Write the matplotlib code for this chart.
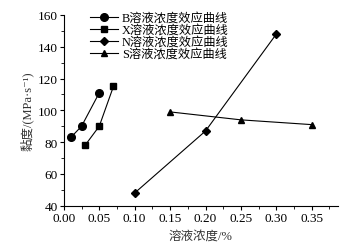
import matplotlib
matplotlib.use("Agg")
import matplotlib.pyplot as plt
from matplotlib.ticker import MultipleLocator

fam = ['Liberation Serif', 'Noto Sans CJK SC', 'DejaVu Serif']
plt.rcParams['font.family'] = fam

B_x = [0.01, 0.025, 0.05]
B_y = [83, 90, 111]
X_x = [0.03, 0.05, 0.07]
X_y = [78, 90, 115]
N_x = [0.10, 0.20, 0.30]
N_y = [48, 87, 148]
S_x = [0.15, 0.25, 0.35]
S_y = [99, 94, 91]
labels = ['B溶液浓度效应曲线', 'X溶液浓度效应曲线', 'N溶液浓度效应曲线', 'S溶液浓度效应曲线']

fig = plt.figure(figsize=(3.47, 2.51), dpi=100)
ax = fig.add_axes([0.184, 0.1765, 0.79, 0.76])
kw = dict(color='black', lw=0.8)
ax.plot(B_x, B_y, marker='o', ms=5.5, label=labels[0], **kw)
ax.plot(X_x, X_y, marker='s', ms=5, label=labels[1], **kw)
ax.plot(N_x, N_y, marker='D', ms=4, label=labels[2], **kw)
ax.plot(S_x, S_y, marker='^', ms=5, label=labels[3], **kw)

ax.set_xlim(0, 0.387)
ax.set_ylim(40, 160)
ax.xaxis.set_major_locator(MultipleLocator(0.05))
ax.xaxis.set_minor_locator(MultipleLocator(0.025))
ax.yaxis.set_major_locator(MultipleLocator(20))
ax.yaxis.set_minor_locator(MultipleLocator(10))
ax.xaxis.set_major_formatter(matplotlib.ticker.FormatStrFormatter('%.2f'))
for s in ['top', 'right']:
    ax.spines[s].set_visible(False)
for s in ['left', 'bottom']:
    ax.spines[s].set_linewidth(0.8)
ax.tick_params(which='major', direction='out', length=3, width=0.8, labelsize=9.5, pad=1.5)
ax.tick_params(which='minor', direction='out', length=2, width=0.6)
ax.set_xlabel('溶液浓度/%', fontsize=9, labelpad=4, color='#333333')
ax.set_ylabel('黏度/(MPa·s⁻¹)', fontsize=9, labelpad=3, color='#333333')

leg = ax.legend(loc='upper left', bbox_to_anchor=(0.065, 1.06), frameon=False,
                fontsize=8.8, handlelength=2.3, handletextpad=0.3, labelspacing=0.0,
                borderpad=0.2)
fig.savefig('out.png', dpi=100)
